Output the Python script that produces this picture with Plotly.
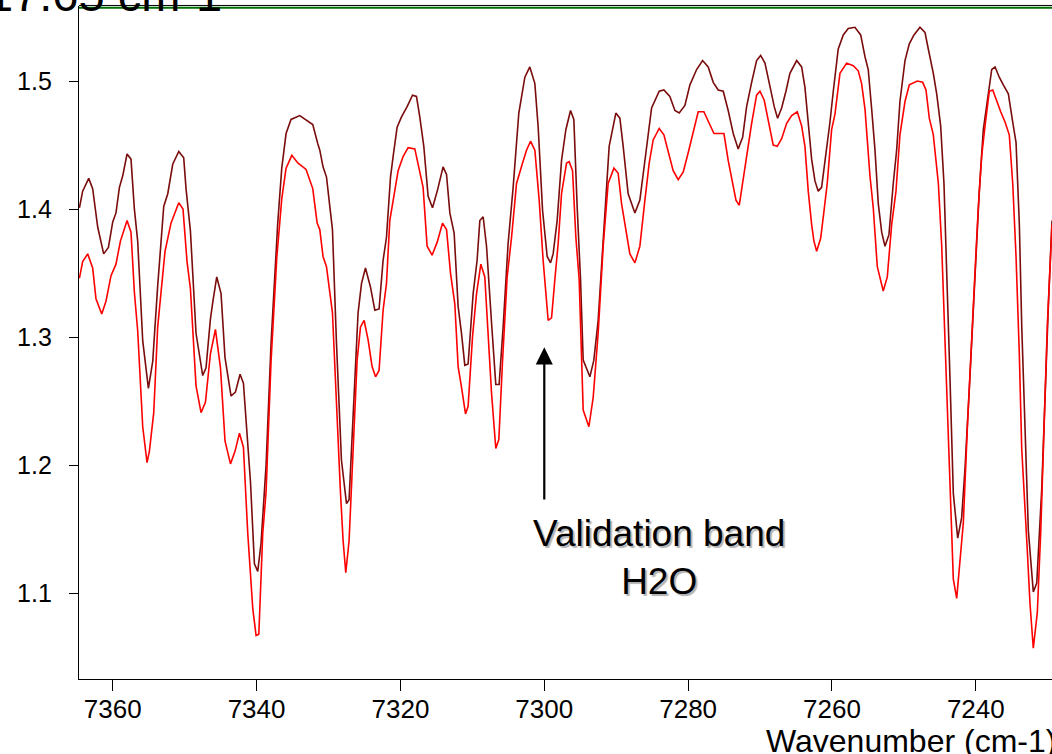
import plotly.graph_objects as go

# ---- data (wavenumber in cm-1, absorbance) ----
wn_dark = [7364.63, 7364.18, 7363.34, 7362.79, 7362.09, 7361.26, 7360.60, 7360.00, 7359.55, 7359.07,
           7358.61, 7358.01, 7357.46, 7356.99, 7356.53, 7355.83, 7355.04, 7354.44, 7353.75, 7352.91,
           7352.35, 7351.66, 7350.82, 7350.13, 7349.81, 7349.20, 7348.42, 7347.49, 7347.03, 7346.42,
           7346.10, 7345.54, 7344.94, 7344.39, 7343.55, 7342.94, 7342.30, 7341.83, 7340.85, 7340.30,
           7339.84, 7339.38, 7338.68, 7337.99, 7337.06, 7336.50, 7335.90, 7335.21, 7334.00, 7332.65,
           7332.19, 7331.49, 7331.21, 7330.76, 7330.28, 7329.45, 7328.89, 7328.20, 7327.50, 7327.14,
           7326.58, 7325.89, 7325.41, 7324.86, 7324.16, 7323.56, 7322.97, 7322.41, 7321.94, 7321.38,
           7321.02, 7320.46, 7319.85, 7319.07, 7318.32, 7317.77, 7317.31, 7316.75, 7316.15, 7315.54,
           7314.84, 7314.07, 7313.59, 7313.13, 7312.53, 7311.98, 7311.51, 7311.05, 7310.59, 7309.89,
           7309.34, 7308.96, 7308.50, 7308.03, 7307.33, 7306.74, 7306.28, 7305.72, 7305.03, 7304.33,
           7303.54, 7302.70, 7302.01, 7301.31, 7300.85, 7300.24, 7299.60, 7299.13, 7298.77, 7298.21,
           7297.60, 7297.00, 7296.35, 7295.89, 7295.43, 7294.96, 7294.59, 7293.66, 7293.11, 7292.51,
           7292.04, 7291.34, 7290.98, 7290.05, 7289.49, 7289.03, 7288.34, 7287.40, 7286.71, 7285.87,
           7285.08, 7284.02, 7283.37, 7282.54, 7281.84, 7281.24, 7280.45, 7279.75, 7278.82, 7277.99,
           7277.21, 7276.51, 7275.82, 7275.12, 7274.43, 7273.73, 7273.04, 7272.42, 7271.87, 7271.17,
           7270.48, 7269.92, 7269.32, 7268.63, 7268.03, 7267.56, 7267.00, 7266.40, 7265.85, 7264.91,
           7264.22, 7263.76, 7263.30, 7262.83, 7262.37, 7261.91, 7261.44, 7260.84, 7260.28, 7259.82,
           7259.13, 7258.43, 7257.74, 7256.81, 7256.01, 7255.41, 7254.96, 7254.48, 7254.02, 7253.56,
           7253.09, 7252.63, 7252.08, 7251.48, 7251.01, 7250.55, 7249.85, 7249.25, 7248.60, 7247.77,
           7247.07, 7246.61, 7245.91, 7245.44, 7244.89, 7244.43, 7243.97, 7243.59, 7243.13, 7242.52,
           7241.97, 7241.51, 7240.81, 7240.12, 7239.52, 7238.96, 7238.40, 7237.79, 7237.33, 7236.74,
           7236.18, 7235.48, 7234.87, 7234.41, 7233.95, 7233.62, 7233.16, 7232.70, 7232.01, 7231.53,
           7230.84, 7230.38, 7229.92, 7229.41]
abs_dark = [1.401, 1.414, 1.424, 1.416, 1.386, 1.365, 1.370, 1.390, 1.397, 1.417,
            1.426, 1.443, 1.439, 1.400, 1.375, 1.297, 1.260, 1.281, 1.340, 1.402,
            1.412, 1.435, 1.445, 1.440, 1.416, 1.383, 1.303, 1.270, 1.276, 1.314,
            1.327, 1.347, 1.334, 1.284, 1.254, 1.257, 1.271, 1.264, 1.187, 1.123,
            1.117, 1.139, 1.200, 1.295, 1.389, 1.432, 1.459, 1.470, 1.473, 1.468,
            1.466, 1.451, 1.446, 1.433, 1.425, 1.384, 1.295, 1.204, 1.170, 1.173,
            1.243, 1.319, 1.342, 1.354, 1.339, 1.321, 1.322, 1.360, 1.378, 1.425,
            1.441, 1.464, 1.472, 1.480, 1.489, 1.488, 1.472, 1.449, 1.410, 1.401,
            1.415, 1.433, 1.427, 1.397, 1.381, 1.324, 1.303, 1.278, 1.279, 1.334,
            1.360, 1.391, 1.394, 1.371, 1.311, 1.263, 1.263, 1.308, 1.373, 1.417,
            1.475, 1.503, 1.511, 1.498, 1.464, 1.399, 1.363, 1.358, 1.365, 1.391,
            1.438, 1.462, 1.477, 1.470, 1.402, 1.345, 1.282, 1.269, 1.282, 1.313,
            1.355, 1.412, 1.449, 1.475, 1.471, 1.449, 1.412, 1.397, 1.407, 1.444,
            1.479, 1.492, 1.493, 1.488, 1.477, 1.475, 1.481, 1.497, 1.509, 1.516,
            1.511, 1.499, 1.493, 1.492, 1.477, 1.459, 1.447, 1.456, 1.480, 1.499,
            1.516, 1.520, 1.514, 1.496, 1.480, 1.471, 1.479, 1.492, 1.506, 1.516,
            1.511, 1.495, 1.468, 1.439, 1.422, 1.414, 1.417, 1.442, 1.468, 1.492,
            1.525, 1.536, 1.541, 1.542, 1.536, 1.519, 1.509, 1.478, 1.446, 1.404,
            1.382, 1.371, 1.380, 1.420, 1.446, 1.484, 1.516, 1.529, 1.536, 1.542,
            1.538, 1.525, 1.506, 1.490, 1.465, 1.420, 1.344, 1.267, 1.178, 1.143,
            1.159, 1.197, 1.270, 1.344, 1.414, 1.462, 1.484, 1.509, 1.511, 1.503,
            1.497, 1.490, 1.468, 1.452, 1.388, 1.309, 1.229, 1.149, 1.101, 1.108,
            1.181, 1.261, 1.324, 1.391]

wn_red = [7364.63, 7364.18, 7363.48, 7362.79, 7362.33, 7361.53, 7360.94, 7360.24, 7359.55, 7358.93,
          7358.01, 7357.46, 7356.99, 7356.53, 7355.83, 7355.23, 7354.90, 7354.30, 7353.75, 7352.73,
          7351.90, 7350.82, 7350.23, 7349.67, 7349.20, 7348.42, 7347.72, 7347.11, 7346.42, 7345.72,
          7345.02, 7344.39, 7343.63, 7342.99, 7342.38, 7341.83, 7341.23, 7340.53, 7340.07, 7339.69,
          7339.14, 7338.68, 7337.99, 7337.19, 7336.50, 7335.90, 7335.10, 7334.27, 7333.12, 7332.19,
          7331.58, 7331.21, 7330.76, 7330.28, 7329.45, 7328.89, 7328.33, 7327.97, 7327.60, 7327.14,
          7326.58, 7326.02, 7325.55, 7325.05, 7324.50, 7323.94, 7323.46, 7322.97, 7322.41, 7321.94,
          7321.48, 7321.02, 7320.32, 7319.63, 7318.93, 7318.00, 7317.44, 7316.85, 7316.29, 7315.60,
          7314.90, 7314.15, 7313.59, 7313.04, 7312.44, 7311.98, 7311.51, 7310.95, 7310.59, 7309.98,
          7309.42, 7308.82, 7308.27, 7307.81, 7307.33, 7306.74, 7306.32, 7305.80, 7305.16, 7304.55,
          7303.86, 7303.02, 7302.47, 7301.91, 7301.31, 7300.71, 7300.16, 7299.46, 7298.99, 7298.53,
          7298.07, 7297.60, 7296.90, 7296.54, 7296.07, 7295.61, 7295.15, 7294.59, 7293.80, 7293.20,
          7292.51, 7291.81, 7291.12, 7290.32, 7289.73, 7289.25, 7288.56, 7288.10, 7287.40, 7286.71,
          7286.01, 7285.41, 7284.86, 7284.02, 7283.37, 7282.77, 7282.08, 7281.38, 7280.68, 7279.99,
          7279.38, 7278.60, 7277.81, 7277.07, 7276.41, 7275.68, 7275.02, 7274.43, 7273.95, 7273.35,
          7272.89, 7272.34, 7271.78, 7271.17, 7270.48, 7270.01, 7269.42, 7268.86, 7268.17, 7267.61,
          7267.00, 7266.30, 7265.61, 7264.83, 7264.22, 7263.76, 7263.30, 7262.83, 7262.51, 7262.13,
          7261.58, 7261.12, 7260.66, 7260.05, 7259.59, 7258.89, 7257.96, 7257.04, 7256.35, 7255.88,
          7255.41, 7254.72, 7254.26, 7253.70, 7253.23, 7252.87, 7252.31, 7251.70, 7251.10, 7250.55,
          7249.85, 7249.25, 7248.14, 7247.39, 7246.93, 7246.47, 7245.91, 7245.21, 7244.75, 7244.29,
          7243.69, 7243.13, 7242.66, 7242.20, 7241.74, 7241.18, 7240.57, 7240.12, 7239.66, 7239.18,
          7238.72, 7238.13, 7237.65, 7237.10, 7236.54, 7235.94, 7235.35, 7234.87, 7234.41, 7233.95,
          7233.62, 7232.84, 7232.47, 7232.01, 7231.45, 7230.97, 7230.51, 7230.06, 7229.41]
abs_red = [1.346, 1.359, 1.365, 1.354, 1.330, 1.318, 1.328, 1.348, 1.357, 1.375,
           1.391, 1.382, 1.335, 1.305, 1.230, 1.202, 1.211, 1.241, 1.308, 1.367,
           1.389, 1.405, 1.400, 1.359, 1.338, 1.262, 1.241, 1.249, 1.287, 1.306,
           1.276, 1.219, 1.201, 1.211, 1.225, 1.214, 1.147, 1.088, 1.067, 1.068,
           1.147, 1.179, 1.281, 1.362, 1.408, 1.432, 1.442, 1.436, 1.431, 1.416,
           1.389, 1.384, 1.363, 1.355, 1.319, 1.243, 1.178, 1.141, 1.116, 1.141,
           1.217, 1.282, 1.308, 1.313, 1.298, 1.277, 1.269, 1.274, 1.321, 1.342,
           1.391, 1.407, 1.430, 1.441, 1.448, 1.447, 1.433, 1.417, 1.371, 1.364,
           1.374, 1.389, 1.384, 1.350, 1.326, 1.277, 1.261, 1.240, 1.246, 1.300,
           1.334, 1.357, 1.347, 1.300, 1.256, 1.213, 1.220, 1.282, 1.347, 1.378,
           1.420, 1.436, 1.446, 1.453, 1.446, 1.407, 1.360, 1.313, 1.315, 1.345,
           1.373, 1.412, 1.436, 1.437, 1.430, 1.378, 1.345, 1.243, 1.230, 1.253,
           1.303, 1.371, 1.420, 1.432, 1.428, 1.404, 1.381, 1.365, 1.358, 1.371,
           1.407, 1.436, 1.454, 1.463, 1.458, 1.444, 1.430, 1.423, 1.429, 1.444,
           1.459, 1.476, 1.476, 1.467, 1.459, 1.459, 1.459, 1.438, 1.423, 1.407,
           1.403, 1.423, 1.446, 1.467, 1.489, 1.492, 1.485, 1.470, 1.450, 1.449,
           1.455, 1.467, 1.473, 1.476, 1.465, 1.449, 1.414, 1.388, 1.375, 1.367,
           1.377, 1.398, 1.420, 1.462, 1.474, 1.506, 1.514, 1.512, 1.508, 1.498,
           1.478, 1.426, 1.401, 1.355, 1.344, 1.336, 1.347, 1.388, 1.414, 1.458,
           1.484, 1.497, 1.500, 1.499, 1.493, 1.471, 1.458, 1.420, 1.372, 1.293,
           1.197, 1.111, 1.096, 1.124, 1.155, 1.229, 1.293, 1.350, 1.401, 1.442,
           1.465, 1.492, 1.493, 1.484, 1.476, 1.468, 1.458, 1.420, 1.363, 1.286,
           1.213, 1.133, 1.092, 1.057, 1.085, 1.149, 1.229, 1.309, 1.388]

x_ticks = [7360, 7340, 7320, 7300, 7280, 7260, 7240]
y_ticks = [1.1, 1.2, 1.3, 1.4, 1.5]
x_range = [7364.69, 7229.41]
y_range = [1.033, 1.5586]
title_text = "17.65 cm-1"
x_title = "Wavenumber (cm-1)"
note_text = "Validation band<br>H2O"
arrow_x = 7300
arrow_tip = 1.292
arrow_tail = 1.172
top_line_y = 1.5573

FONT = "Liberation Sans, Arial, sans-serif"

fig = go.Figure()
fig.add_trace(go.Scatter(x=wn_dark, y=abs_dark, mode="lines",
                         line=dict(color="#7a0c0c", width=1.6), showlegend=False))
fig.add_trace(go.Scatter(x=wn_red, y=abs_red, mode="lines",
                         line=dict(color="#ff0000", width=1.6), showlegend=False))

fig.update_layout(
    width=1052, height=754,
    margin=dict(l=79, r=0, t=6, b=75, autoexpand=False),
    paper_bgcolor="white", plot_bgcolor="white",
    font=dict(family=FONT, color="black", size=25),
    showlegend=False,
)
fig.update_xaxes(range=x_range, tickvals=x_ticks, ticktext=[str(v) for v in x_ticks],
                 ticks="outside", ticklen=11, tickwidth=1.3, tickcolor="black",
                 showline=True, linecolor="black", linewidth=1.3, ticklabelstandoff=-4,
                 showgrid=False, zeroline=False, tickfont=dict(size=26, family=FONT))
fig.update_yaxes(range=y_range, tickvals=y_ticks, ticktext=[f"{v:.1f}" for v in y_ticks],
                 ticks="outside", ticklen=9, tickwidth=1.3, tickcolor="black",
                 showline=True, linecolor="black", linewidth=1.3, ticklabelstandoff=12,
                 showgrid=False, zeroline=False, tickfont=dict(size=25, family=FONT))

# top frame: black line with green line just below
fig.add_shape(type="line", xref="paper", yref="paper", x0=0, x1=1, y0=1.0008, y1=1.0008,
              line=dict(color="black", width=1))
fig.add_shape(type="line", xref="paper", yref="y", x0=0, x1=1, y0=top_line_y, y1=top_line_y,
              line=dict(color="#007000", width=2))

# arrow
fig.add_annotation(x=arrow_x, y=arrow_tip, ax=arrow_x, ay=arrow_tail, axref="x", ayref="y",
                   xref="x", yref="y", text="", showarrow=True, arrowhead=2,
                   arrowwidth=2.2, arrowsize=1.55, arrowcolor="black", standoff=0)
# annotation text
fig.add_annotation(x=7284.03, y=1.128, xref="x", yref="y", text=note_text, showarrow=False,
                   xanchor="center", yanchor="middle", align="center",
                   font=dict(size=37, family=FONT, color="black",
                             shadow="2px 2px 1px rgba(0,0,0,0.3)"))
# cut-off title
fig.add_annotation(x=-0.0969, y=1.0168, xref="paper", yref="paper", text=title_text,
                   showarrow=False, xanchor="left", yanchor="middle",
                   font=dict(size=47, family=FONT, color="black"))
# x-axis title (partly outside the visible area)
fig.add_annotation(x=0.855, y=-0.092, xref="paper", yref="paper", text=x_title,
                   showarrow=False, xanchor="center", yanchor="middle",
                   font=dict(size=32, family=FONT, color="black"))

fig.write_html("out.html", post_script="document.body.style.margin='0px';",
               config={"displayModeBar": False})
